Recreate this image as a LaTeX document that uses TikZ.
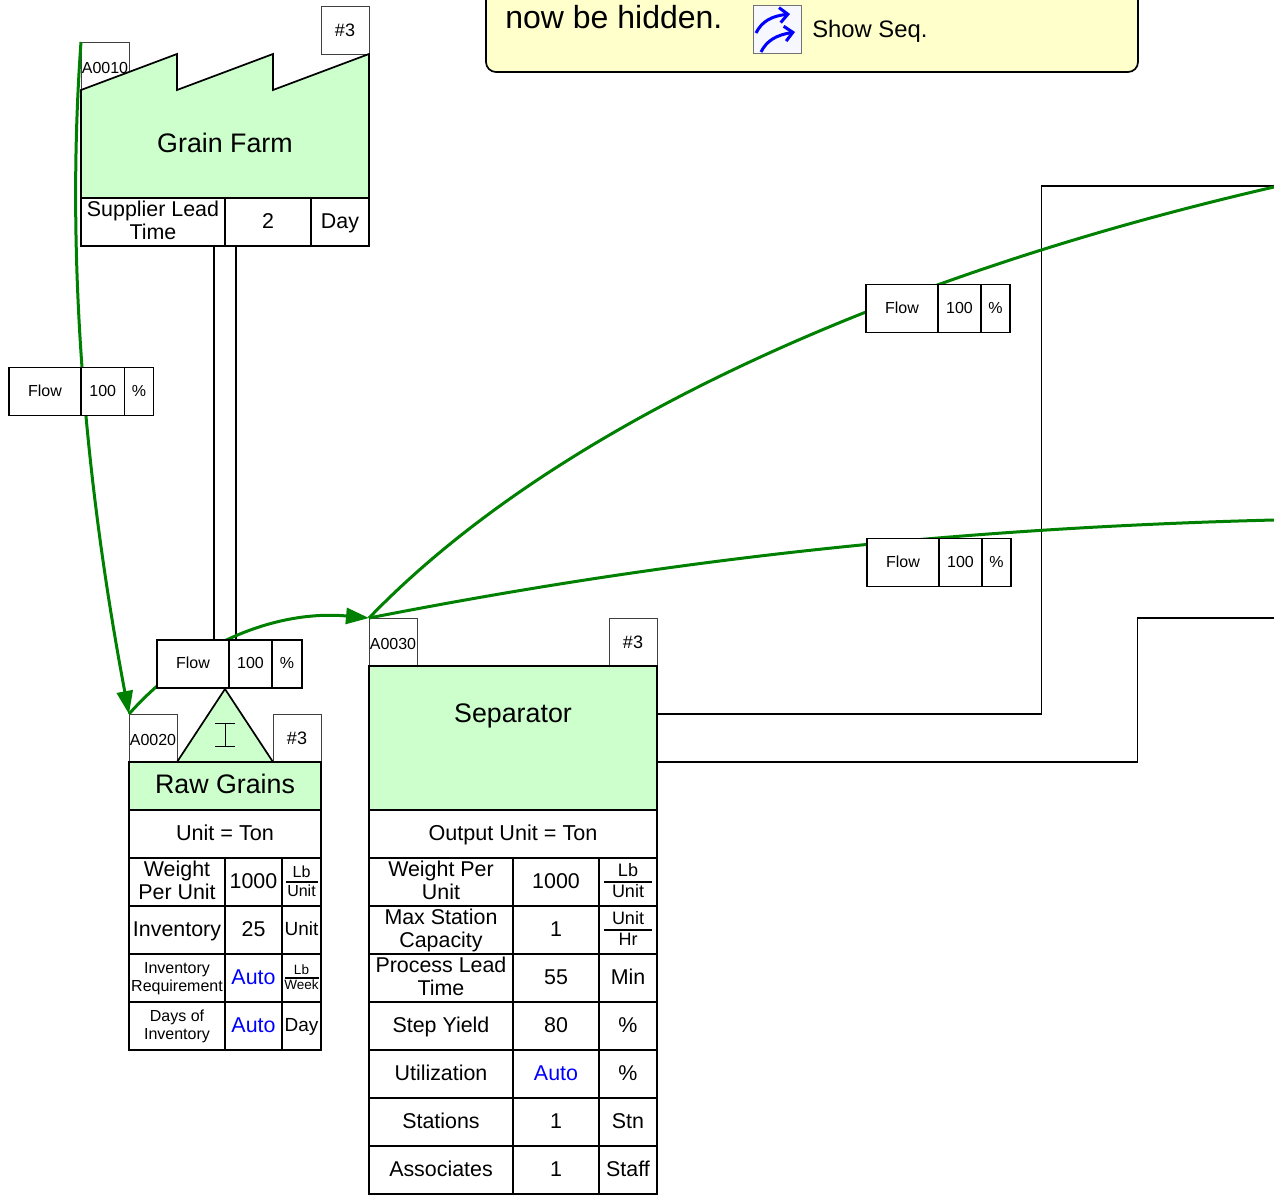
\documentclass[tikz,border=0pt]{standalone}
\usepackage{fontspec}
\setmainfont{Liberation Sans}
\usepackage{xcolor}
\usetikzlibrary{arrows.meta}
\definecolor{boxgreen}{HTML}{CCFFCC}
\definecolor{noteyellow}{HTML}{FFFFCC}
\definecolor{flowgreen}{HTML}{008000}
\newcommand{\fs}[2]{\fontsize{#1}{#2}\selectfont}
\newcommand{\cellstrut}{\rule[-.3em]{0pt}{1.18em}}
\newcommand{\toprow}{\rule{0pt}{.865em}}

\begin{document}
\begin{tikzpicture}[x=1pt, y=-1pt, line width=1.7pt,
  cell/.style={draw=black, fill=white, anchor=north west, inner sep=0pt, outer sep=0pt, align=center, font=\fs{21.4}{23},
    execute at begin node=\cellstrut, execute at end node=\cellstrut},
  tag/.style={draw=black!75, line width=0.9pt, fill=white, anchor=north west, inner sep=0pt, outer sep=0pt, minimum width=48pt, minimum height=48pt, font=\fs{18}{20},
    execute at begin node=\rule{0pt}{.72em}},
  idtag/.style={tag, font=\fs{16}{18}, execute at begin node=\rule{0pt}{1em}},
  flowline/.style={draw=flowgreen, line width=3pt},
  flowtip/.style={-{Triangle[length=23pt,width=16pt]}},
  showarrow/.style={blue, line width=3pt, -{Straight Barb[length=8pt,width=15pt]}},
  sheet/.style={draw=black, fill=boxgreen},
  fracrule/.style={line width=1.2pt},
  autoval/.style={text=blue}]
\clip (0,0) rectangle (1274,1196);
\useasboundingbox (0,0) rectangle (1274,1196);

% note
\draw[fill=noteyellow, rounded corners=10pt] (486,-60) rectangle (1138,72);
\node[anchor=base west, inner sep=0pt, font=\fs{32}{36}] (hid) at (504.5,29) {now be hidden.};
\node[draw=black!55, line width=1pt, fill=blue!3, anchor=north west, inner sep=0pt, outer sep=0pt, minimum width=48pt, minimum height=48pt] (icon) at (753,6) {};
\draw[showarrow] (756,33) .. controls (762,21) and (772,16) .. (790,14);
\draw[showarrow] (761,52) .. controls (767,40) and (777,35) .. (795,32);
\node[anchor=west, inner sep=0pt, font=\fs{23.8}{26}] (seq) at (811.5,31) {Show Seq.};

% supply lines and transfer lines
\coordinate (sa) at (214,246);
\coordinate (sb) at (236,246);
\coordinate (sc) at (214,640);
\coordinate (sd) at (236,640);
\draw (sa) -- (sc);
\draw (sb) -- (sd);
\coordinate (ua) at (657,714);
\coordinate (ub) at (1041.5,714);
\coordinate (uc) at (1041.5,186);
\coordinate (ud) at (1274,186);
\coordinate (va) at (657,762);
\coordinate (vb) at (1137.5,762);
\coordinate (vc) at (1137.5,618);
\coordinate (vd) at (1274,618);
\draw (ua) -- (ub) -- (uc) -- (ud);
\draw (va) -- (vb) -- (vc) -- (vd);

% tags
\node[idtag] (gfid) at (81,42) {A0010};
\node[tag] (gfn) at (321,6) {\#3};
\node[idtag] (rgid) at (129,714) {A0020};
\node[tag] (rgn) at (273,714) {\#3};
\node[idtag] (spid) at (369,618) {A0030};
\node[tag] (spn) at (609,618) {\#3};

% factory
\draw[sheet] (81,90) -- (177,54) -- (177,90) -- (273,54) -- (273,90) -- (369,54) -- (369,198) -- (81,198) -- cycle;
\node[font=\fs{26.8}{30}] (gf) at (225,143) {Grain Farm};
\node[cell, minimum width=144pt, minimum height=48pt] (gfa) at (81,198) {\toprow Supplier Lead\\Time};
\node[cell, minimum width=86pt, minimum height=48pt] (gfb) at (225,198) {2};
\node[cell, minimum width=58pt, minimum height=48pt] (gfc) at (311,198) {Day};

% inventory
\draw[sheet] (225,689) -- (273,762) -- (177,762) -- cycle;
\draw[line width=1pt] (215,723) -- (235,723) (225,723) -- (225,746) (215,746) -- (235,746);
\node[cell, fill=boxgreen, minimum width=192pt, minimum height=48pt, font=\fs{26.8}{30}] (rg) at (129,762) {Raw Grains};
\node[cell, minimum width=192pt, minimum height=48pt, font=\fs{21.6}{24}] (rgu) at (129,810) {Unit = Ton};
\node[cell, minimum width=96pt, minimum height=48pt] (rga) at (129,858) {\toprow Weight\\Per Unit};
\node[cell, minimum width=57pt, minimum height=48pt] (rgb) at (225,858) {1000};
\node[cell, minimum width=39pt, minimum height=48pt, font=\fs{16}{19}] (rgc) at (282,858) {\toprow Lb\\Unit};
\node[cell, minimum width=96pt, minimum height=48pt] (rgd) at (129,906) {Inventory};
\node[cell, minimum width=57pt, minimum height=48pt] (rge) at (225,906) {25};
\node[cell, minimum width=39pt, minimum height=48pt, font=\fs{19}{22}] (rgf) at (282,906) {Unit};
\node[cell, minimum width=96pt, minimum height=48pt, font=\fs{16}{18}] (rgg) at (129,954) {\toprow Inventory\\Requirement};
\node[cell, autoval, minimum width=57pt, minimum height=48pt] (rgh) at (225,954) {Auto};
\node[cell, minimum width=39pt, minimum height=48pt, font=\fs{13.5}{15}] (rgi) at (282,954) {\toprow Lb\\Week};
\node[cell, minimum width=96pt, minimum height=48pt, font=\fs{16}{18}] (rgj) at (129,1002) {\toprow Days of\\Inventory};
\node[cell, autoval, minimum width=57pt, minimum height=48pt] (rgk) at (225,1002) {Auto};
\node[cell, minimum width=39pt, minimum height=48pt, font=\fs{19}{22}] (rgl) at (282,1002) {Day};
\draw[fracrule] ([xshift=4pt]rgc.west) -- ([xshift=-3pt]rgc.east);
\draw[fracrule] ([xshift=3pt]rgi.west) -- ([xshift=-2pt]rgi.east);

% process
\node[cell, fill=boxgreen, minimum width=288pt, minimum height=144pt] (sp) at (369,666) {};
\node[font=\fs{26.8}{30}] (spt) at (513,715.5) {Separator};
\node[cell, minimum width=288pt, minimum height=48pt, font=\fs{21.6}{24}] (spu) at (369,810) {Output Unit = Ton};
\node[cell, minimum width=144pt, minimum height=48pt] (spa) at (369,858) {\toprow Weight Per\\Unit};
\node[cell, minimum width=86pt, minimum height=48pt] (spb) at (513,858) {1000};
\node[cell, minimum width=58pt, minimum height=48pt, font=\fs{18}{21}] (spc) at (599,858) {\toprow Lb\\Unit};
\node[cell, minimum width=144pt, minimum height=48pt] (spd) at (369,906) {\toprow Max Station\\Capacity};
\node[cell, minimum width=86pt, minimum height=48pt] (spe) at (513,906) {1};
\node[cell, minimum width=58pt, minimum height=48pt, font=\fs{18}{21}] (spf) at (599,906) {\toprow Unit\\Hr};
\node[cell, minimum width=144pt, minimum height=48pt] (spg) at (369,954) {\toprow Process Lead\\Time};
\node[cell, minimum width=86pt, minimum height=48pt] (sph) at (513,954) {55};
\node[cell, minimum width=58pt, minimum height=48pt] (spi) at (599,954) {Min};
\node[cell, minimum width=144pt, minimum height=48pt] (spj) at (369,1002) {Step Yield};
\node[cell, minimum width=86pt, minimum height=48pt] (spk) at (513,1002) {80};
\node[cell, minimum width=58pt, minimum height=48pt] (spl) at (599,1002) {\%};
\node[cell, minimum width=144pt, minimum height=48pt] (spm) at (369,1050) {Utilization};
\node[cell, autoval, minimum width=86pt, minimum height=48pt] (spo) at (513,1050) {Auto};
\node[cell, minimum width=58pt, minimum height=48pt] (spq) at (599,1050) {\%};
\node[cell, minimum width=144pt, minimum height=48pt] (spr) at (369,1098) {Stations};
\node[cell, minimum width=86pt, minimum height=48pt] (sps) at (513,1098) {1};
\node[cell, minimum width=58pt, minimum height=48pt] (spv) at (599,1098) {Stn};
\node[cell, minimum width=144pt, minimum height=48pt] (spw) at (369,1146) {Associates};
\node[cell, minimum width=86pt, minimum height=48pt] (spx) at (513,1146) {1};
\node[cell, minimum width=58pt, minimum height=48pt] (spy) at (599,1146) {Staff};
\draw[fracrule] ([xshift=5pt]spc.west) -- ([xshift=-5pt]spc.east);
\draw[fracrule] ([xshift=5pt]spf.west) -- ([xshift=-5pt]spf.east);

% flows
\coordinate (fa) at (1274,187);
\coordinate (fb) at (1274,520);
\draw[flowline, flowtip] (gfid.north west) .. controls (66,250) and (83,470) .. (rgid.north west);
\draw[flowline, flowtip] (rgid.north west) .. controls (195,640) and (280,610) .. (spid.north west);
\draw[flowline] (spid.north west) .. controls (560,420) and (900,273) .. (fa);
\draw[flowline] (spid.north west) .. controls (640,565) and (920,529) .. (fb);

% flow boxes
\node[cell, minimum width=72pt, minimum height=48pt, font=\fs{16}{18}] (fla) at (9,367.5) {Flow};
\node[cell, minimum width=43.5pt, minimum height=48pt, font=\fs{16}{18}] (flb) at (81,367.5) {100};
\node[cell, minimum width=29pt, minimum height=48pt, font=\fs{16}{18}] (flc) at (124.5,367.5) {\%};
\node[cell, minimum width=72pt, minimum height=48pt, font=\fs{16}{18}] (fld) at (157,640) {Flow};
\node[cell, minimum width=43pt, minimum height=48pt, font=\fs{16}{18}] (fle) at (229,640) {100};
\node[cell, minimum width=30pt, minimum height=48pt, font=\fs{16}{18}] (flf) at (272,640) {\%};
\node[cell, minimum width=72pt, minimum height=48pt, font=\fs{16}{18}] (flg) at (866,284.5) {Flow};
\node[cell, minimum width=43pt, minimum height=48pt, font=\fs{16}{18}] (flh) at (938,284.5) {100};
\node[cell, minimum width=29pt, minimum height=48pt, font=\fs{16}{18}] (fli) at (981,284.5) {\%};
\node[cell, minimum width=72pt, minimum height=48pt, font=\fs{16}{18}] (flj) at (867,538.5) {Flow};
\node[cell, minimum width=43pt, minimum height=48pt, font=\fs{16}{18}] (flk) at (939,538.5) {100};
\node[cell, minimum width=29pt, minimum height=48pt, font=\fs{16}{18}] (fll) at (982,538.5) {\%};
\end{tikzpicture}
\end{document}
